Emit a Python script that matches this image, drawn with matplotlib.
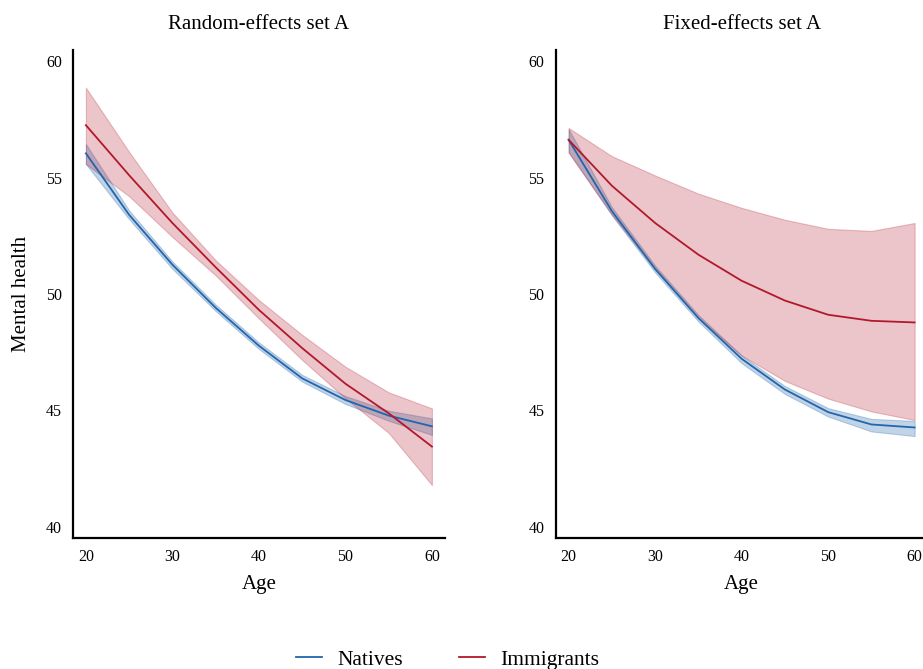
import matplotlib
matplotlib.use("Agg")
from matplotlib import pyplot as plt

plt.rcParams['font.family'] = ['Liberation Serif', 'DejaVu Serif']

ages = [20, 25, 30, 35, 40, 45, 50, 55, 60]
panel_titles = ['Random-effects set A', 'Fixed-effects set A']
y_ticks = [40, 45, 50, 55, 60]
x_ticks = [20, 30, 40, 50, 60]

# random-effects panel
re_nat = [56.04, 53.40, 51.26, 49.41, 47.78, 46.38, 45.45, 44.78, 44.32]
re_nat_hi = [56.44, 53.59, 51.40, 49.55, 47.92, 46.53, 45.62, 44.99, 44.66]
re_nat_lo = [55.58, 53.21, 51.08, 49.27, 47.64, 46.24, 45.28, 44.56, 43.95]
re_imm = [57.25, 55.10, 53.05, 51.15, 49.32, 47.68, 46.15, 44.88, 43.45]
re_imm_hi = [58.86, 56.10, 53.50, 51.45, 49.74, 48.25, 46.88, 45.78, 45.09]
re_imm_lo = [55.58, 54.20, 52.45, 50.80, 48.95, 47.17, 45.52, 44.04, 41.80]

# fixed-effects panel
fe_nat = [56.62, 53.56, 51.08, 48.97, 47.22, 45.90, 44.93, 44.40, 44.27]
fe_nat_hi = [57.08, 53.73, 51.22, 49.10, 47.36, 46.05, 45.10, 44.64, 44.55]
fe_nat_lo = [56.10, 53.38, 50.93, 48.82, 47.03, 45.71, 44.74, 44.10, 43.90]
fe_imm = [56.62, 54.65, 53.05, 51.69, 50.57, 49.72, 49.11, 48.85, 48.78]
fe_imm_hi = [57.13, 55.92, 55.09, 54.31, 53.70, 53.19, 52.80, 52.71, 53.05]
fe_imm_lo = [56.06, 53.41, 51.05, 48.97, 47.36, 46.27, 45.51, 44.96, 44.59]

panels = [
    (re_nat, re_nat_lo, re_nat_hi, re_imm, re_imm_lo, re_imm_hi),
    (fe_nat, fe_nat_lo, fe_nat_hi, fe_imm, fe_imm_lo, fe_imm_hi),
]

blue = '#2166ac'
red = '#b2182b'

fig = plt.figure(figsize=(9.23, 6.69), dpi=100)
ax_left = fig.add_axes([0.079, 0.196, 0.403, 0.729])
ax_right = fig.add_axes([0.602, 0.196, 0.403, 0.729])

for ax, title, (nat, nat_lo, nat_hi, imm, imm_lo, imm_hi) in zip([ax_left, ax_right], panel_titles, panels):
    ax.fill_between(ages, nat_lo, nat_hi, color=blue, alpha=0.28, linewidth=0.8)
    ax.fill_between(ages, imm_lo, imm_hi, facecolor=red, edgecolor=red, alpha=0.25, linewidth=0.8)
    ax.plot(ages, nat, color=blue, lw=1.3, label='Natives')
    ax.plot(ages, imm, color=red, lw=1.3, label='Immigrants')

    ax.set_xlim(18.5, 61.5)
    ax.set_ylim(39.53, 60.47)
    ax.set_xticks(x_ticks)
    ax.set_yticks(y_ticks)
    ax.tick_params(length=0, labelsize=11.5, pad=8)
    for side in ['top', 'right']:
        ax.spines[side].set_visible(False)
    for side in ['left', 'bottom']:
        ax.spines[side].set_linewidth(1.6)
    ax.set_title(title, fontsize=15, pad=15)
    ax.set_xlabel('Age', fontsize=15, labelpad=7)

ax_left.set_ylabel('Mental health', fontsize=15, labelpad=11)

handles, labels = ax_left.get_legend_handles_labels()
fig.legend(handles, labels, loc='lower center', bbox_to_anchor=(0.485, -0.03), ncol=2,
           frameon=False, fontsize=15.5, columnspacing=2.6, handlelength=1.2, handletextpad=0.7)

fig.savefig('out.png', dpi=100)
